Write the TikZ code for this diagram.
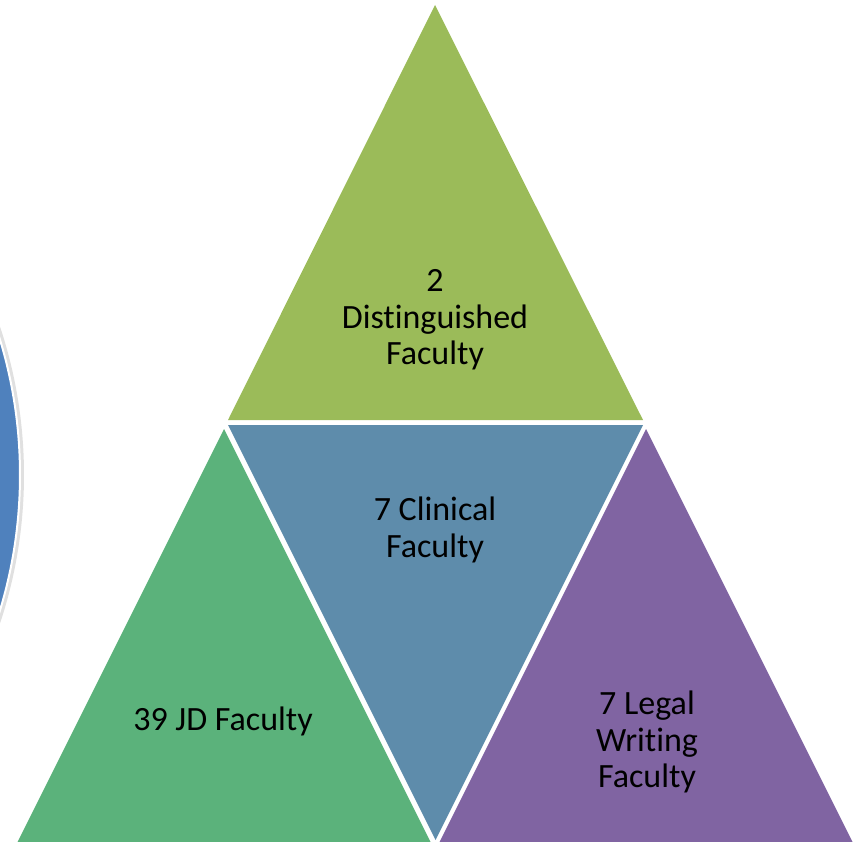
\documentclass[tikz,border=0pt]{standalone}
\usepackage{fontspec}
\setmainfont[Ligatures=NoCommon]{Carlito}
\definecolor{topgreen}{RGB}{155,187,89}
\definecolor{midblue}{RGB}{94,140,171}
\definecolor{leftgreen}{RGB}{91,178,123}
\definecolor{rightpurple}{RGB}{128,100,162}
\definecolor{ringblue}{RGB}{79,129,189}
\begin{document}
\begin{tikzpicture}[x=1pt, y=-1pt,
  part/.style={draw=none},
  label/.style={align=center, text=black, inner sep=0pt,
    font=\fontsize{34}{36.5}\selectfont}]
\useasboundingbox (0,0) rectangle (862,842);
\clip (0,0) rectangle (862,842);
% partial circle on the left
\fill[black!12] (-445,475) circle (469);
\draw[ringblue, fill=ringblue, draw=white, line width=2pt] (-445,475) circle (465);
% corners
\coordinate (TopA) at (435,5);
\coordinate (TopL) at (228,420);
\coordinate (TopR) at (643,420);
\coordinate (MidL) at (228,425);
\coordinate (MidR) at (643,425);
\coordinate (MidB) at (435.5,840);
\coordinate (LftA) at (224,429);
\coordinate (LftL) at (17,843);
\coordinate (LftR) at (431,843);
\coordinate (RgtA) at (646,429);
\coordinate (RgtL) at (439,843);
\coordinate (RgtR) at (853,843);
% triangles
\fill[part, topgreen] (TopA) -- (TopL) -- (TopR) -- cycle;
\fill[part, midblue] (MidL) -- (MidR) -- (MidB) -- cycle;
\fill[part, leftgreen] (LftA) -- (LftL) -- (LftR) -- cycle;
\fill[part, rightpurple] (RgtA) -- (RgtL) -- (RgtR) -- cycle;
% texts
\node[label] (TopText) at (435,320) {2\\Distinguished\\Faculty};
\node[label] (MidText) at (435,530) {7 Clinical\\Faculty};
\node[label] (LftText) at (223,721) {39 JD Faculty};
\node[label] (RgtText) at (647,742) {7 Legal\\Writing\\Faculty};
\end{tikzpicture}
\end{document}
